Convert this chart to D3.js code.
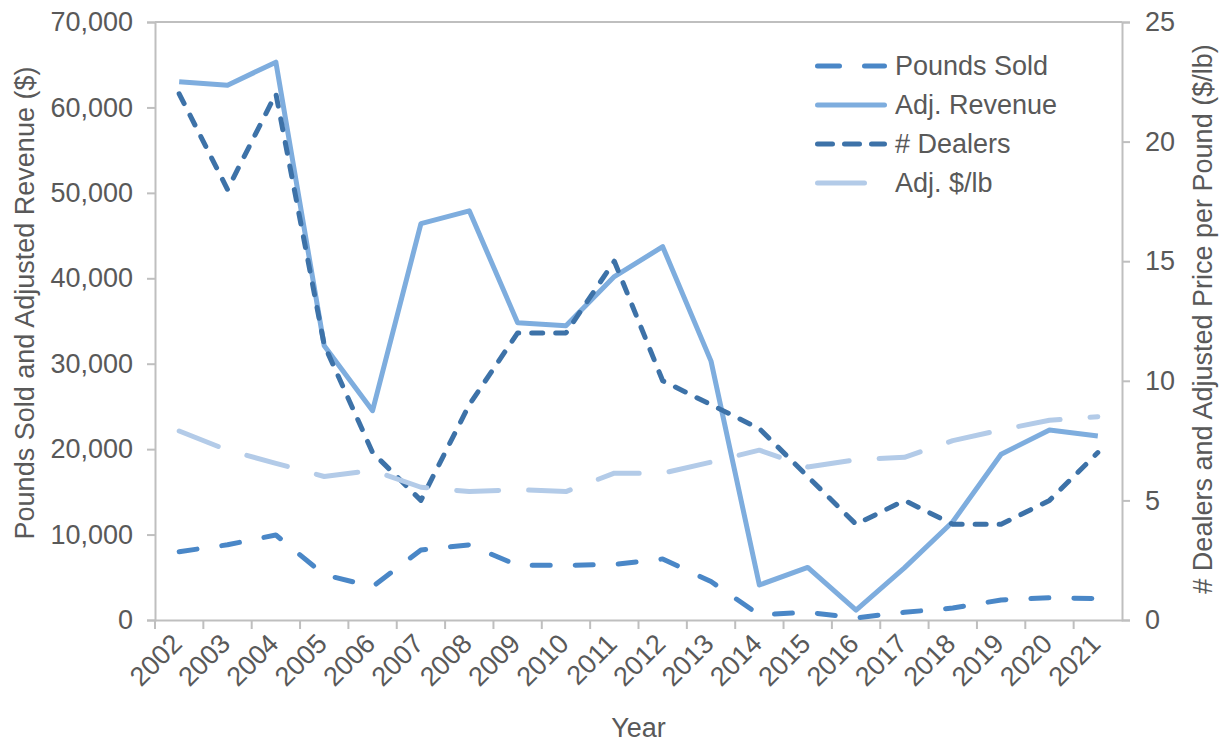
<!DOCTYPE html>
<html>
<head>
<meta charset="utf-8">
<script src="https://cdn.jsdelivr.net/npm/d3@7"></script>
<style>
  body { margin: 0; background: #fff; }
  text { font-family: "Liberation Sans", Arial, sans-serif; fill: #595959; }
</style>
</head>
<body>
<svg width="1223" height="742"></svg>
<script>
const years = ["2002", "2003", "2004", "2005", "2006", "2007", "2008", "2009", "2010", "2011",
  "2012", "2013", "2014", "2015", "2016", "2017", "2018", "2019", "2020", "2021"];
const poundsSold = [8000, 8800, 9950, 5300, 3900, 8200, 8800, 6400, 6400, 6500,
  7150, 4500, 600, 900, 250, 900, 1400, 2350, 2600, 2500];
const adjRevenue = [63000, 62600, 65300, 32100, 24500, 46400, 47900, 34800, 34450, 40200,
  43700, 30300, 4100, 6150, 1150, 6100, 11500, 19400, 22250, 21550];
const dealers = [22, 18, 22, 11.5, 7, 5, 9, 12, 12, 15, 10, 9, 8, 6, 4, 5, 4, 4, 5, 7];
const adjPrice = [7.9, 7.1, 6.55, 6.0, 6.25, 5.55, 5.37, 5.45, 5.37, 6.14,
  6.14, 6.6, 7.1, 6.4, 6.7, 6.8, 7.5, 7.95, 8.35, 8.5];

const leftTicks = [0, 10000, 20000, 30000, 40000, 50000, 60000, 70000];
const rightTicks = [0, 5, 10, 15, 20, 25];

const series = [
  { name: "Pounds Sold", values: poundsSold, axis: "left", color: "#4a87c7", dash: "18,25", legendDash: "22,25", legendLen: 67 },
  { name: "Adj. Revenue", values: adjRevenue, axis: "left", color: "#7eadde", dash: null, legendDash: null, legendLen: 67 },
  { name: "# Dealers", values: dealers, axis: "right", color: "#3d72a8", dash: "11,13", legendDash: "15,12", legendLen: 67 },
  { name: "Adj. $/lb", values: adjPrice, axis: "right", color: "#b3cbe8", dash: "42,30", legendDash: null, legendLen: 47 },
];

const svg = d3.select("svg");
const margin = { left: 155, right: 101, top: 22, bottom: 122 };
const width = 1223 - margin.left - margin.right;
const height = 742 - margin.top - margin.bottom;
const axisColor = "#bfbfbf";
const fontSize = "27px";

const g = svg.append("g").attr("transform", `translate(${margin.left},${margin.top})`);

const x = d3.scaleBand().domain(years).range([0, width]);
const yLeft = d3.scaleLinear().domain([0, 70000]).range([height, 0]);
const yRight = d3.scaleLinear().domain([0, 25]).range([height, 0]);

// left axis
const leftAxis = g.append("g")
  .call(d3.axisLeft(yLeft).tickValues(leftTicks).tickFormat(d3.format(",")).tickSize(8).tickPadding(14));
// right axis
const rightAxis = g.append("g").attr("transform", `translate(${width},0)`)
  .call(d3.axisRight(yRight).tickValues(rightTicks).tickSize(8).tickPadding(15));
// bottom axis, ticks on category boundaries
const bottomAxis = g.append("g").attr("transform", `translate(0,${height})`)
  .call(d3.axisBottom(x).tickSize(0).tickFormat(""));
bottomAxis.selectAll(".tick").remove();
bottomAxis.selectAll(".bound")
  .data(years)
  .join("line")
  .attr("x1", d => x(d)).attr("x2", d => x(d))
  .attr("y1", 0).attr("y2", 9)
  .attr("stroke", axisColor).attr("stroke-width", 2);

// top border
g.append("line").attr("x1", 0).attr("x2", width).attr("y1", 0).attr("y2", 0)
  .attr("stroke", axisColor).attr("stroke-width", 2);

[leftAxis, rightAxis, bottomAxis].forEach(a => {
  a.select(".domain").attr("stroke", axisColor).attr("stroke-width", 2);
  a.selectAll(".tick line").attr("stroke", axisColor).attr("stroke-width", 2);
  a.selectAll(".tick text").style("font-size", fontSize).attr("fill", "#595959");
});

// year labels rotated
g.append("g").selectAll("text")
  .data(years)
  .join("text")
  .attr("transform", d => `translate(${x(d) + x.bandwidth() / 2 - 9},${height + 12}) rotate(-45)`)
  .attr("text-anchor", "end")
  .attr("dy", "0.7em")
  .style("font-size", fontSize)
  .text(d => d);

// axis titles
svg.append("text")
  .attr("transform", `translate(34,303) rotate(-90)`)
  .attr("text-anchor", "middle")
  .style("font-size", fontSize)
  .text("Pounds Sold and Adjusted Revenue ($)");
svg.append("text")
  .attr("transform", `translate(1212,319) rotate(-90)`)
  .attr("text-anchor", "middle")
  .style("font-size", fontSize)
  .text("# Dealers and Adjusted Price per Pound ($/lb)");
svg.append("text")
  .attr("x", margin.left + width / 2)
  .attr("y", 737)
  .attr("text-anchor", "middle")
  .style("font-size", fontSize)
  .text("Year");

// lines
series.forEach(s => {
  const yScale = s.axis === "left" ? yLeft : yRight;
  const line = d3.line()
    .x((d, i) => x(years[i]) + x.bandwidth() / 2)
    .y(d => yScale(d));
  g.append("path")
    .datum(s.values)
    .attr("fill", "none")
    .attr("stroke", s.color)
    .attr("stroke-width", 5)
    .attr("stroke-linejoin", "round")
    .attr("stroke-linecap", s.dash ? "round" : "butt")
    .attr("stroke-dasharray", s.dash)
    .attr("d", line);
});

// legend
const legend = svg.append("g").attr("transform", "translate(815,66)");
const rows = legend.selectAll("g")
  .data(series)
  .join("g")
  .attr("transform", (d, i) => `translate(0,${i * 39})`);
rows.append("line")
  .attr("x1", 2.5).attr("x2", d => 2.5 + d.legendLen)
  .attr("y1", 0).attr("y2", 0)
  .attr("stroke", d => d.color)
  .attr("stroke-width", 5)
  .attr("stroke-linecap", "round")
  .attr("stroke-dasharray", d => d.legendDash);
rows.append("text")
  .attr("x", 80)
  .attr("y", 0)
  .attr("dy", "0.35em")
  .style("font-size", fontSize)
  .text(d => d.name);
</script>
</body>
</html>
